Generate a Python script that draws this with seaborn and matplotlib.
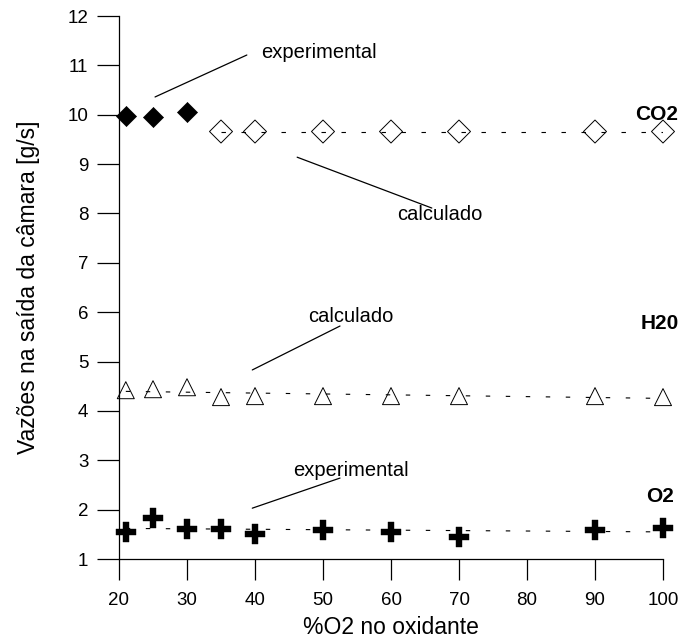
import matplotlib
matplotlib.use("Agg")
import matplotlib.pyplot as plt
import numpy as np
import pandas as pd
import seaborn as sns

# ── Data ──────────────────────────────────────────────────────────────────────
co2_exp_x = [21, 25, 30]
co2_exp_y = [9.97, 9.95, 10.05]
co2_calc_x = [35, 40, 50, 60, 70, 90, 100]
co2_calc_y = [9.66, 9.66, 9.66, 9.66, 9.66, 9.66, 9.66]

h2o_x = [21, 25, 30, 35, 40, 50, 60, 70, 90, 100]
h2o_y = [4.42, 4.44, 4.48, 4.28, 4.30, 4.30, 4.30, 4.30, 4.30, 4.28]

o2_x = [21, 25, 30, 35, 40, 50, 60, 70, 90, 100]
o2_y = [1.55, 1.83, 1.61, 1.61, 1.51, 1.59, 1.55, 1.45, 1.59, 1.63]

x_ticks = [20, 30, 40, 50, 60, 70, 80, 90, 100]
y_ticks = list(range(1, 13))

# ── Style ─────────────────────────────────────────────────────────────────────
sns.set_style("ticks")
plt.rcParams["font.family"] = ["Liberation Sans", "DejaVu Sans"]
plt.rcParams["text.color"] = "black"
plt.rcParams["axes.labelcolor"] = "black"

fig = plt.figure(figsize=(6.8, 6.43), dpi=100)
ax = fig.add_axes([0.175, 0.1306, 0.8, 0.8445])

dash = dict(color="black", lw=0.8, dashes=(4, 14))

# fitted dashed lines
sns.regplot(x=co2_calc_x, y=co2_calc_y, ci=None, scatter=False, truncate=True,
            line_kws=dash, ax=ax)
sns.regplot(x=h2o_x, y=h2o_y, ci=None, scatter=False, truncate=True,
            line_kws=dash, ax=ax)
sns.regplot(x=o2_x, y=o2_y, ci=None, scatter=False, truncate=True,
            line_kws=dash, ax=ax)

# markers
sns.scatterplot(x=co2_exp_x, y=co2_exp_y, marker="D", s=104, color="black",
                edgecolor="black", linewidth=0.5, ax=ax, zorder=3, clip_on=False)
sns.scatterplot(x=co2_calc_x, y=co2_calc_y, marker="D", s=137, facecolor="none",
                edgecolor="black", linewidth=0.7, ax=ax, zorder=3, clip_on=False)
sns.scatterplot(x=h2o_x, y=h2o_y, marker="^", s=150, facecolor="none",
                edgecolor="black", linewidth=0.7, ax=ax, zorder=3, clip_on=False)
sns.scatterplot(x=o2_x, y=o2_y, marker="P", s=190, color="black",
                edgecolor="black", linewidth=0.3, ax=ax, zorder=3, clip_on=False)

# annotations
line_kw = dict(arrowprops=dict(arrowstyle="-", color="black", lw=0.9,
                               shrinkA=0, shrinkB=0))
ax.annotate("", xy=(25.3, 10.36), xytext=(38.8, 11.21), **line_kw)
ax.annotate("", xy=(46.2, 9.14), xytext=(66.0, 8.11), **line_kw)
ax.annotate("", xy=(39.6, 4.83), xytext=(52.5, 5.72), **line_kw)
ax.annotate("", xy=(39.6, 2.03), xytext=(52.5, 2.64), **line_kw)

ax.text(40.9, 11.27, "experimental", fontsize=14.5, ha="left", va="center")
ax.text(67.2, 7.97, "calculado", fontsize=14.5, ha="center", va="center")
ax.text(54.1, 5.92, "calculado", fontsize=14.5, ha="center", va="center")
ax.text(54.1, 2.80, "experimental", fontsize=14.5, ha="center", va="center")

ax.text(99.1, 10.0, "CO2", fontsize=15, fontweight="bold", ha="center", va="center")
ax.text(99.5, 5.78, "H20", fontsize=15, fontweight="bold", ha="center", va="center")
ax.text(99.5, 2.26, "O2", fontsize=15, fontweight="bold", ha="center", va="center")

# axes
ax.set_xlim(20, 100)
ax.set_ylim(1, 12)
ax.set_xticks(x_ticks)
ax.set_yticks(y_ticks)
ax.tick_params(axis="y", direction="out", length=16, width=0.9, pad=6,
               labelsize=13.5, color="black", labelcolor="black")
ax.tick_params(axis="x", direction="out", length=15, width=0.9, pad=9,
               labelsize=13.5, color="black", labelcolor="black")
for side in ["top", "right"]:
    ax.spines[side].set_visible(False)
for side in ["left", "bottom"]:
    ax.spines[side].set_color("black")
    ax.spines[side].set_linewidth(0.9)
ax.set_facecolor("white")
fig.patch.set_facecolor("white")

ax.set_xlabel("%O2 no oxidante", fontsize=16.5, labelpad=5)
ax.set_ylabel("Vazões na saída da câmara [g/s]", fontsize=16.5, labelpad=20)

fig.savefig("out.png", dpi=100)
